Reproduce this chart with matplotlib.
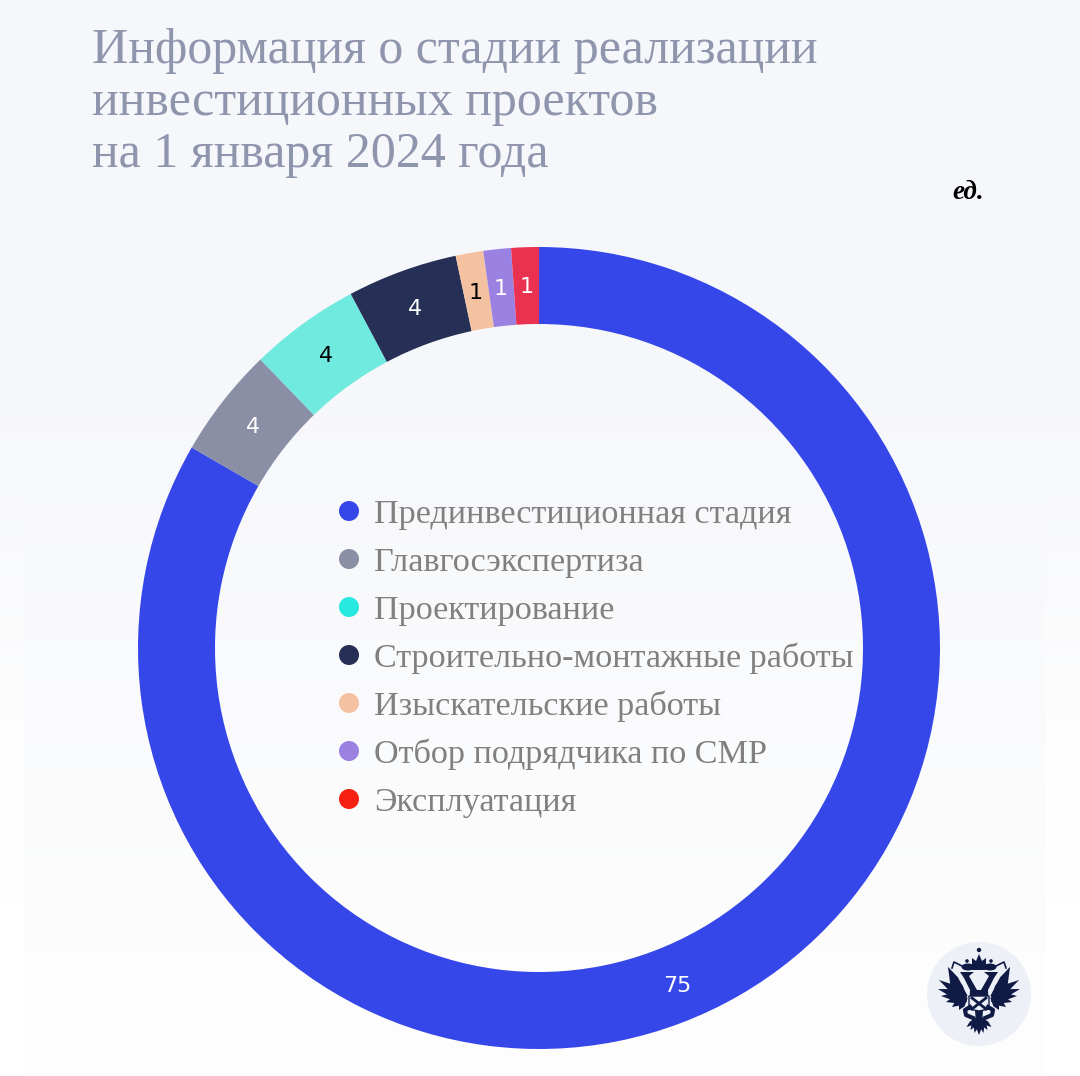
import numpy as np
import matplotlib
matplotlib.use('Agg')
import matplotlib.pyplot as plt
from matplotlib.patches import Circle, Ellipse, Polygon

# данные
stages = ['Прединвестиционная стадия', 'Главгосэкспертиза', 'Проектирование',
          'Строительно-монтажные работы', 'Изыскательские работы',
          'Отбор подрядчика по СМР', 'Эксплуатация']
values = [75, 4, 4, 4, 1, 1, 1]
ring_colors = ['#3647EA', '#8A8FA6', '#70E9DF', '#262F55', '#F4C2A1', '#9B82E2', '#EA3250']
legend_colors = ['#3647EA', '#8A8FA6', '#27E9DF', '#262F55', '#F4C2A1', '#9B82E2', '#F5200F']
label_colors = ['white', 'white', 'black', 'white', 'black', 'white', 'white']
title_lines = ['Информация о стадии реализации', 'инвестиционных проектов', 'на 1 января 2024 года']

W, H = 1080, 1076
fig = plt.figure(figsize=(W / 100, H / 100), dpi=100, facecolor='white')

# фон - светлый сверху, к низу уходит в белый
bg = fig.add_axes([0, 0, 1, 1])
bg.axis('off')
tint = np.array([246, 247, 251]) / 255
low = np.array([253, 253, 253]) / 255
fade = np.interp(np.arange(H), [0, 330, 950, 1076], [0, 0, 1, 1])
panel = np.zeros((H, W, 3))
for c in range(3):
    panel[:, :, c] = (tint[c] + (low[c] - tint[c]) * fade)[:, None]
# по краям внизу полоса чисто белая
edge = np.interp(np.arange(H), [500, 900], [0, 1])[:, None, None]
panel[:, :24, :] = panel[:, :24, :] * (1 - edge) + edge
panel[:, 1046:, :] = panel[:, 1046:, :] * (1 - edge) + edge
bg.imshow(panel, aspect='auto', zorder=0)
bg.axis('off')

# кольцо
cx, cy, R = 539, 648, 401
ax = fig.add_axes([(cx - R) / W, 1 - (cy + R) / H, 2 * R / W, 2 * R / H])
wedges, _ = ax.pie(values, colors=ring_colors, startangle=90, counterclock=False, radius=1,
                   wedgeprops=dict(width=77 / 401, linewidth=0))
ax.set_xlim(-1, 1)
ax.set_ylim(-1, 1)
ax.patch.set_alpha(0)

for i, w in enumerate(wedges):
    ang = (w.theta1 + w.theta2) / 2
    if i == 0:
        ang = -67.6  # подпись 75 смещена от середины сектора
    rad = np.deg2rad(ang)
    ax.text(0.905 * np.cos(rad), 0.905 * np.sin(rad), str(values[i]), ha='center', va='center_baseline',
            color=label_colors[i], fontsize=16, family='DejaVu Sans')

# верхний слой в пикселях
top = fig.add_axes([0, 0, 1, 1])
top.set_xlim(0, W)
top.set_ylim(H, 0)
top.axis('off')
top.patch.set_alpha(0)

for i, line in enumerate(title_lines):
    top.text(92, 63 + i * 52, line, fontsize=36, family='Liberation Serif',
             color='#9095AE', va='baseline')

top.text(968, 199, 'ед.', fontsize=19.5, family='Liberation Serif', style='italic',
         weight='bold', color='black', ha='center', va='baseline')

# легенда
for i, name in enumerate(stages):
    y = 511 + i * 48
    top.add_patch(Circle((349, y), 10, color=legend_colors[i], lw=0))
    top.text(374, y + 12, name, fontsize=24.6, family='Liberation Serif', color='#808080', va='baseline')

# герб в круге
navy = '#101B45'
pale = '#EDF0F7'
ex, ey = 979, 994
top.add_patch(Circle((ex, ey), 52, color=pale, lw=0))


def feather(x0, y0, x1, y1, half):
    # заостренное перо от основания к кончику
    d = np.array([x1 - x0, y1 - y0], dtype=float)
    n = np.array([-d[1], d[0]]) / np.hypot(*d)
    m = np.array([x0, y0]) + d * 0.6
    pts = [np.array([x0, y0]) + n * half * 0.6, m + n * half, (x1, y1), m - n * half,
           np.array([x0, y0]) - n * half * 0.6]
    top.add_patch(Polygon(pts, color=navy, lw=0))


for s in (-1, 1):
    # крыло
    tips = [(31, -27), (40, -14), (41, -5), (38, 2), (33, 8), (27, 13), (20, 16)]
    for tx, ty in tips:
        feather(ex + s * 13, ey + 3, ex + s * tx, ey + ty, 3.2)
    top.add_patch(Polygon([(ex + s * 12, ey + 8), (ex + s * 16, ey - 8), (ex + s * 31, ey - 27),
                           (ex + s * 28, ey - 4), (ex + s * 20, ey + 8)], color=navy, lw=0))
    # шея и голова
    top.add_patch(Polygon([(ex + s * 2, ey - 4), (ex + s * 10, ey - 18), (ex + s * 5, ey - 22),
                           (ex + s * 19, ey - 22), (ex + s * 15, ey - 16), (ex + s * 9, ey - 4)],
                          color=navy, lw=0))
    # малая корона и лента
    top.add_patch(Ellipse((ex + s * 11, ey - 27), 13, 7, color=navy, lw=0))
    top.add_patch(Circle((ex + s * 12, ey - 33), 1.8, color=navy, lw=0))
    top.plot([ex + s * 17, ex + s * 25, ex + s * 27], [ey - 28, ey - 32, ey - 26], color=navy, lw=1.2)
    # лапы
    top.plot([ex + s * 9, ex + s * 14, ex + s * 13, ex + s * 6], [ey + 13, ey + 16, ey + 21, ey + 24],
             color=navy, lw=3)
    # хвост
    for dx, ln in ((2.5, 15), (6.5, 12), (10.5, 9)):
        feather(ex + s * 1, ey + 24, ex + s * (dx + 2), ey + 24 + ln, 2.2)

# центр - большая корона, щит с ключами, хвост
top.add_patch(Polygon([(ex - 3, ey - 33), (ex, ey - 40), (ex + 3, ey - 33), (ex + 7, ey - 36), (ex + 7, ey - 24),
                       (ex - 7, ey - 24), (ex - 7, ey - 36)], color=navy, lw=0))
top.add_patch(Circle((ex, ey - 44), 2.2, color=navy, lw=0))
top.add_patch(Polygon([(ex - 9, ey - 4), (ex + 9, ey - 4), (ex + 10, ey + 16), (ex - 10, ey + 16)],
                      color=navy, lw=0))
top.add_patch(Polygon([(ex - 10, ey + 2), (ex + 10, ey + 2), (ex + 10, ey + 15), (ex, ey + 17), (ex - 10, ey + 15)],
                      facecolor=pale, edgecolor=navy, lw=1))
top.plot([ex - 7, ex + 7], [ey + 4, ey + 15], color=navy, lw=2)
top.plot([ex + 7, ex - 7], [ey + 4, ey + 15], color=navy, lw=2)
top.add_patch(Polygon([(ex - 4, ey + 17), (ex + 4, ey + 17), (ex + 3, ey + 28), (ex - 3, ey + 28)], color=navy, lw=0))
feather(ex, ey + 24, ex, ey + 41, 2.6)

fig.savefig('out.png', dpi=100)
